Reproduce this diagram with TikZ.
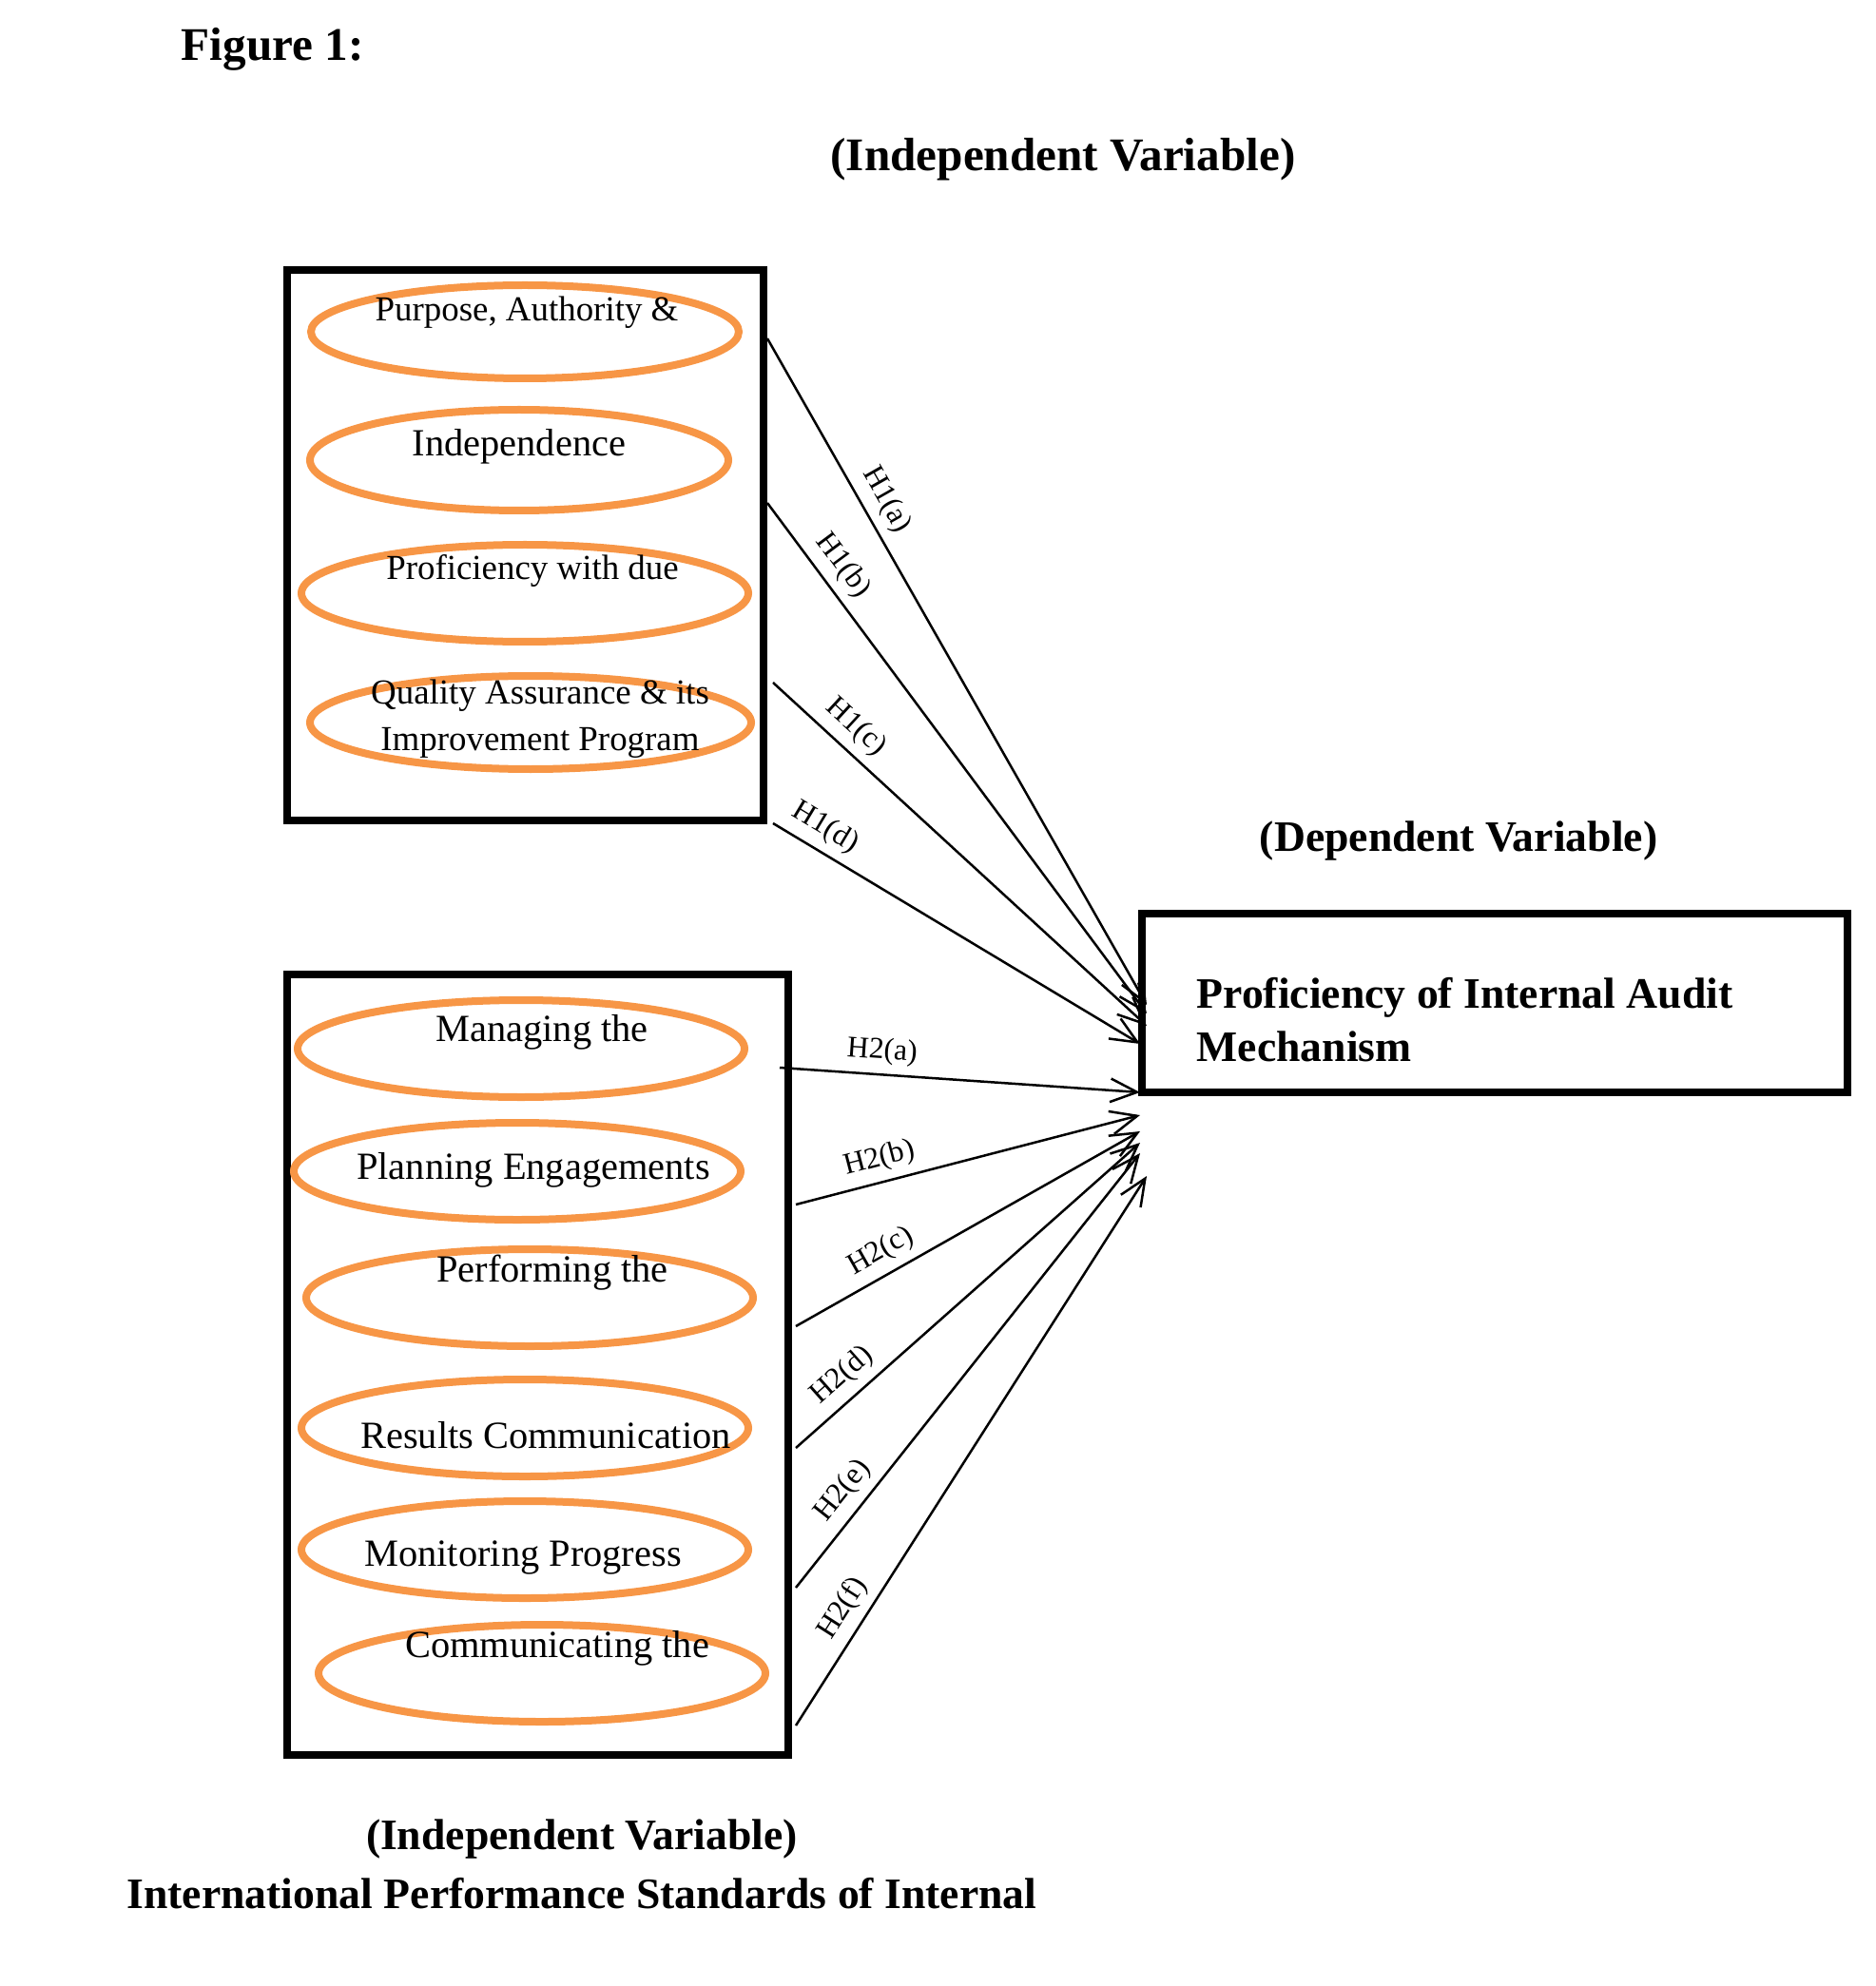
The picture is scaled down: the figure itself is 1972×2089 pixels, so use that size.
\documentclass[tikz,border=0pt]{standalone}
\usepackage{fontspec}
\setmainfont{Liberation Serif}
\usepackage{tikz}
\usepackage{xcolor}
\usetikzlibrary{arrows.meta,shapes.geometric}
\definecolor{ovalorange}{HTML}{F79646}

\begin{document}
\begin{tikzpicture}[
  x=0.1mm, y=-0.1mm,
  framebox/.style={draw, line width=0.8mm, inner sep=0pt},
  oval/.style={ellipse, draw=ovalorange, line width=0.8mm, inner sep=0pt},
  ovaltext/.style={font=\fontsize{10.5}{14}\selectfont, align=center, inner sep=0pt},
  bigovaltext/.style={font=\fontsize{11.5}{14}\selectfont, align=center, inner sep=0pt},
  title/.style={font=\fontsize{14}{17}\selectfont\bfseries, inner sep=0pt},
  subtitle/.style={font=\fontsize{13}{16}\selectfont\bfseries, inner sep=0pt, align=left},
  edge/.style={-{Straight Barb[length=8pt,width=7pt]}, line width=0.25mm},
  hyp/.style={above, sloped, font=\fontsize{9}{11}\selectfont, inner sep=2.5pt}
]
  \useasboundingbox (0,0) rectangle (1972,2089);

  \node[title, anchor=west] (fig) at (190,52) {Figure 1:};
  \node[title] (indeptop) at (1118,168) {(Independent Variable)};
  \node[subtitle] (deptitle) at (1534,885) {(Dependent Variable)};
  \node[subtitle] (indepbot) at (612,1934) {(Independent Variable)};
  \node[subtitle] (ipstitle) at (612,1992) {International Performance Standards of Internal};

  \node[framebox, minimum width=50.1mm, minimum height=57.9mm] (attr) at (552.5,573.5) {};
  \node[framebox, minimum width=52.7mm, minimum height=82.1mm] (perf) at (565.5,1435.5) {};
  \node[framebox, minimum width=74.2mm, minimum height=18.8mm] (dep) at (1572,1055) {};
  \node[subtitle, anchor=west] (deptext) at (1258,1073) {Proficiency of Internal Audit\\Mechanism};

  \node[oval, minimum width=45.0mm, minimum height=9.8mm] (purpose) at (552,349) {};
  \node[oval, minimum width=44.0mm, minimum height=10.6mm] (indep) at (546,484) {};
  \node[oval, minimum width=47.0mm, minimum height=10.2mm] (profic) at (552,624) {};
  \node[oval, minimum width=46.4mm, minimum height=9.8mm] (quality) at (558,760) {};
  \node[ovaltext] (purposetxt) at (554,329) {Purpose, Authority \&};
  \node[bigovaltext] (indeptxt) at (546,470) {Independence};
  \node[ovaltext] (profictxt) at (560,600) {Proficiency with due};
  \node[ovaltext] (qualitytxt) at (568,756) {Quality Assurance \& its\\Improvement Program};

  \node[oval, minimum width=47.0mm, minimum height=10.2mm] (manage) at (548,1103) {};
  \node[oval, minimum width=47.0mm, minimum height=10.2mm] (plan) at (544,1232) {};
  \node[oval, minimum width=47.0mm, minimum height=10.2mm] (perform) at (557,1365) {};
  \node[oval, minimum width=47.0mm, minimum height=10.2mm] (results) at (552,1502) {};
  \node[oval, minimum width=47.0mm, minimum height=10.2mm] (monitor) at (552,1630) {};
  \node[oval, minimum width=47.0mm, minimum height=10.2mm] (commun) at (570,1760) {};
  \node[bigovaltext] (managetxt) at (570,1086) {Managing the};
  \node[bigovaltext] (plantxt) at (561,1231) {Planning Engagements};
  \node[bigovaltext] (performtxt) at (581,1339) {Performing the};
  \node[bigovaltext] (resultstxt) at (574,1510) {Results Communication};
  \node[bigovaltext] (monitortxt) at (550,1638) {Monitoring Progress};
  \node[bigovaltext] (communtxt) at (586,1734) {Communicating the};

  \coordinate (s1a) at (807,356);  \coordinate (t1a) at (1206,1057);
  \coordinate (s1b) at (807,529);  \coordinate (t1b) at (1206,1066);
  \coordinate (s1c) at (813,718);  \coordinate (t1c) at (1206,1079);
  \coordinate (s1d) at (813,866);  \coordinate (t1d) at (1199,1098);
  \coordinate (s2a) at (820,1123); \coordinate (t2a) at (1199,1149);
  \coordinate (s2b) at (837,1267); \coordinate (t2b) at (1199,1173);
  \coordinate (s2c) at (837,1395); \coordinate (t2c) at (1199,1190);
  \coordinate (s2d) at (837,1523); \coordinate (t2d) at (1199,1202);
  \coordinate (s2e) at (837,1670); \coordinate (t2e) at (1199,1213);
  \coordinate (s2f) at (837,1815); \coordinate (t2f) at (1206,1237);

  \draw[edge] (s1a) -- node[hyp, pos=0.26] {H1(a)} (t1a);
  \draw[edge] (s1b) -- node[hyp, pos=0.15] {H1(b)} (t1b);
  \draw[edge] (s1c) -- node[hyp, pos=0.18] {H1(c)} (t1c);
  \draw[edge] (s1d) -- node[hyp, pos=0.11] {H1(d)} (t1d);
  \draw[edge] (s2a) -- node[hyp, pos=0.28] {H2(a)} (t2a);
  \draw[edge] (s2b) -- node[hyp, pos=0.26] {H2(b)} (t2b);
  \draw[edge] (s2c) -- node[hyp, pos=0.28] {H2(c)} (t2c);
  \draw[edge] (s2d) -- node[hyp, pos=0.18] {H2(d)} (t2d);
  \draw[edge] (s2e) -- node[hyp, pos=0.19] {H2(e)} (t2e);
  \draw[edge] (s2f) -- node[hyp, pos=0.19] {H2(f)} (t2f);
\end{tikzpicture}
\end{document}
